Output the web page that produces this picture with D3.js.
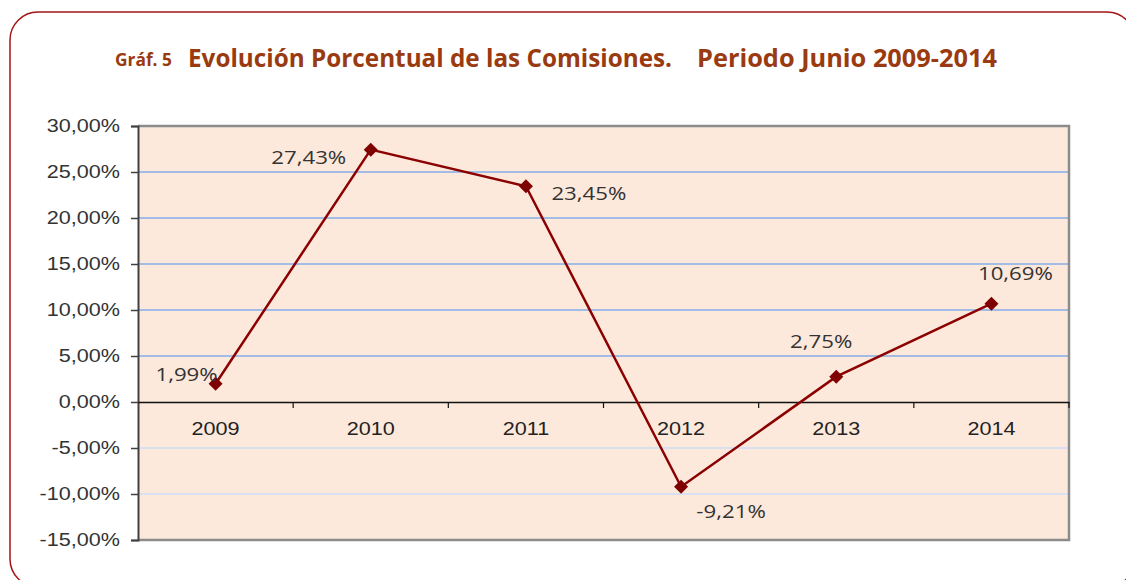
<!DOCTYPE html>
<html>
<head>
<meta charset="utf-8">
<script src="https://cdn.jsdelivr.net/npm/d3@7"></script>
<style>
  body { margin: 0; background: #fff; }
</style>
</head>
<body>
<svg id="chart"></svg>
<script>
const years = ["2009", "2010", "2011", "2012", "2013", "2014"];
const values = [1.99, 27.43, 23.45, -9.21, 2.75, 10.69];
const valueLabels = ["1,99%", "27,43%", "23,45%", "-9,21%", "2,75%", "10,69%"];
const yTicks = [30, 25, 20, 15, 10, 5, 0, -5, -10, -15];

const svgWidth = 1126;
const svgHeight = 580;
const margin = { top: 126, right: 57, bottom: 40, left: 138 };
const width = svgWidth - margin.left - margin.right;
const height = svgHeight - margin.top - margin.bottom;

// widen text a bit, the source fonts are wider than ours
function stretch(sel, k) {
  sel.each(function () {
    const len = this.getComputedTextLength();
    d3.select(this).attr("textLength", len * k).attr("lengthAdjust", "spacingAndGlyphs");
  });
}

const root = d3.select("#chart")
  .attr("width", svgWidth)
  .attr("height", svgHeight);

// outer rounded frame
root.append("rect")
  .attr("x", 10).attr("y", 12)
  .attr("width", 1125).attr("height", 575)
  .attr("rx", 28)
  .attr("fill", "#fff")
  .attr("stroke", "#a31515")
  .attr("stroke-width", 1.5);

// title
root.append("text")
  .attr("x", 115).attr("y", 66)
  .attr("font-family", "Open Sans, sans-serif")
  .attr("font-weight", "bold")
  .attr("font-size", 17)
  .attr("fill", "#9a3a10")
  .attr("textLength", 57).attr("lengthAdjust", "spacingAndGlyphs")
  .text("Gráf. 5");
root.append("text")
  .attr("x", 188).attr("y", 67)
  .attr("font-family", "Open Sans, sans-serif")
  .attr("font-weight", "bold")
  .attr("font-size", 25)
  .attr("fill", "#9a3a10")
  .attr("textLength", 484).attr("lengthAdjust", "spacingAndGlyphs")
  .text("Evolución Porcentual de las Comisiones.");
root.append("text")
  .attr("x", 697).attr("y", 67)
  .attr("font-family", "Open Sans, sans-serif")
  .attr("font-weight", "bold")
  .attr("font-size", 25)
  .attr("fill", "#9a3a10")
  .attr("textLength", 300).attr("lengthAdjust", "spacingAndGlyphs")
  .text("Periodo Junio 2009-2014");

const svg = root.append("g")
  .attr("transform", `translate(${margin.left},${margin.top})`);

const xScale = d3.scaleBand()
  .domain(years)
  .range([0, width]);

const yScale = d3.scaleLinear()
  .domain([-15, 30])
  .range([height, 0]);

// plot background
svg.append("rect")
  .attr("width", width).attr("height", height)
  .attr("fill", "#fde9db");

// gridlines
svg.selectAll(".grid")
  .data(yTicks.filter(d => d !== 0 && d !== 30 && d !== -15))
  .enter()
  .append("line")
  .attr("x1", 0).attr("x2", width)
  .attr("y1", d => yScale(d)).attr("y2", d => yScale(d))
  .attr("stroke", d => d > 0 ? "#a3bce6" : "#d9e0f2")
  .attr("stroke-width", 2);

// plot border
svg.append("path")
  .attr("d", `M0,0H${width}V${height}H0`)
  .attr("fill", "none")
  .attr("stroke", "#8c8c8c")
  .attr("stroke-width", 2.5);

// y axis
const yAxis = svg.append("g")
  .call(d3.axisLeft(yScale)
    .tickValues(yTicks)
    .tickSize(7)
    .tickPadding(11)
    .tickFormat(d => d3.format(".2f")(d).replace(".", ",").replace("−", "-") + "%"));
yAxis.select(".domain").attr("stroke", "#404040").attr("stroke-width", 2);
yAxis.selectAll(".tick line").attr("stroke", "#404040").attr("stroke-width", 1.5);
yAxis.selectAll("text")
  .attr("font-family", "Liberation Sans, Arial, sans-serif")
  .attr("font-size", 18)
  .attr("fill", "#333")
  .call(stretch, 1.2);

// x axis on zero line
const xAxis = svg.append("g")
  .attr("transform", `translate(0,${yScale(0)})`)
  .call(d3.axisBottom(xScale).tickSize(0).tickPadding(20));
xAxis.select(".domain").attr("stroke", "#111").attr("stroke-width", 1.5);
xAxis.selectAll("text")
  .attr("font-family", "Liberation Sans, Arial, sans-serif")
  .attr("font-size", 18)
  .attr("fill", "#222")
  .call(stretch, 1.2);

// category boundary ticks
svg.selectAll(".xtick")
  .data(years.slice(1).concat(["end"]))
  .enter()
  .append("line")
  .attr("x1", (d, i) => i < years.length - 1 ? xScale(d) : width)
  .attr("x2", (d, i) => i < years.length - 1 ? xScale(d) : width)
  .attr("y1", yScale(0))
  .attr("y2", yScale(0) + 6)
  .attr("stroke", "#111")
  .attr("stroke-width", 1.2);

const points = years.map((y, i) => ({ year: y, value: values[i], label: valueLabels[i] }));
const cx = d => xScale(d.year) + xScale.bandwidth() / 2;

const line = d3.line()
  .x(cx)
  .y(d => yScale(d.value));

svg.append("path")
  .datum(points)
  .attr("d", line)
  .attr("fill", "none")
  .attr("stroke", "#8b0000")
  .attr("stroke-width", 2.5);

svg.selectAll(".marker")
  .data(points)
  .enter()
  .append("path")
  .attr("class", "marker")
  .attr("transform", d => `translate(${cx(d)},${yScale(d.value)})`)
  .attr("d", "M0,-7L7,0L0,7L-7,0Z")
  .attr("fill", "#7f0000");

// data label offsets [dx, dy] relative to point
const labelOffsets = [[-29, -3], [-62, 14], [63, 14], [50, 31], [-15, -29], [24, -24]];

svg.selectAll(".dlabel")
  .data(points)
  .enter()
  .append("text")
  .attr("x", (d, i) => cx(d) + labelOffsets[i][0])
  .attr("y", (d, i) => yScale(d.value) + labelOffsets[i][1])
  .attr("text-anchor", "middle")
  .attr("font-family", "Open Sans, sans-serif")
  .attr("font-size", 19)
  .attr("fill", "#333")
  .text(d => d.label)
  .call(stretch, 1.17);
</script>
</body>
</html>
